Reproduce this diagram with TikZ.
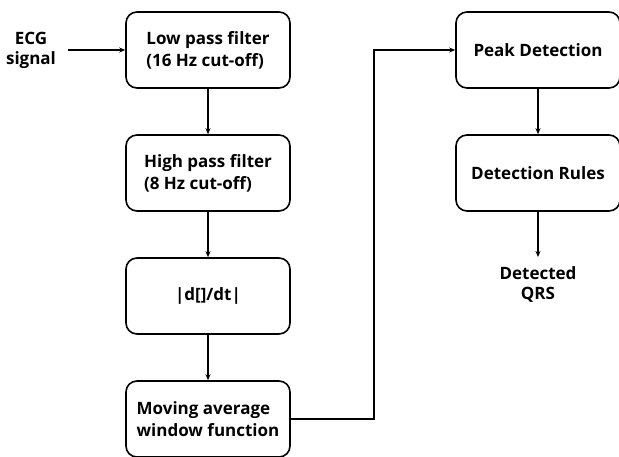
\documentclass[tikz,border=0pt]{standalone}
\usepackage{fontspec}
\setmainfont{Open Sans}
\usetikzlibrary{arrows.meta}
\begin{document}
\begin{tikzpicture}[x=1pt,y=-1pt,
  blk/.style={draw, line width=1.6pt, rounded corners=11pt, minimum width=164pt, minimum height=76pt, align=left, font=\fontsize{17}{22}\selectfont\bfseries, inner sep=0pt},
  lbl/.style={align=center, font=\fontsize{17}{20}\selectfont\bfseries, inner sep=0pt},
  conn/.style={line width=1.4pt, -{Stealth[length=6pt,width=5pt]}}]
\useasboundingbox (0,0) rectangle (619,457);
\node[blk] (lp) at (208,50) {Low pass filter\\(16 Hz cut-off)};
\node[blk] (hp) at (208,173) {High pass filter\\(8 Hz cut-off)};
\node[blk] (dd) at (208,296) {|d[]/dt|};
\node[blk] (ma) at (208,419) {Moving average\\window function};
\node[blk] (pk) at (538,50) {Peak Detection};
\node[blk] (dr) at (538,173) {Detection Rules};
\node[lbl] (ecg) at (31,50) {ECG\\signal};
\node[lbl, anchor=north] (qrs) at (538,266) {Detected\\QRS};
\coordinate (c1) at (374,419);
\coordinate (c2) at (374,50);
\coordinate (qe) at (538,257);
\draw[conn] (ecg.east) ++(12,0) -- (lp.west);
\draw[conn] (lp) -- (hp);
\draw[conn] (hp) -- (dd);
\draw[conn] (dd) -- (ma);
\draw[conn] (ma.east) -- (c1) -- (c2) -- (pk.west);
\draw[conn] (pk) -- (dr);
\draw[conn] (dr) -- (qe);
\end{tikzpicture}
\end{document}
